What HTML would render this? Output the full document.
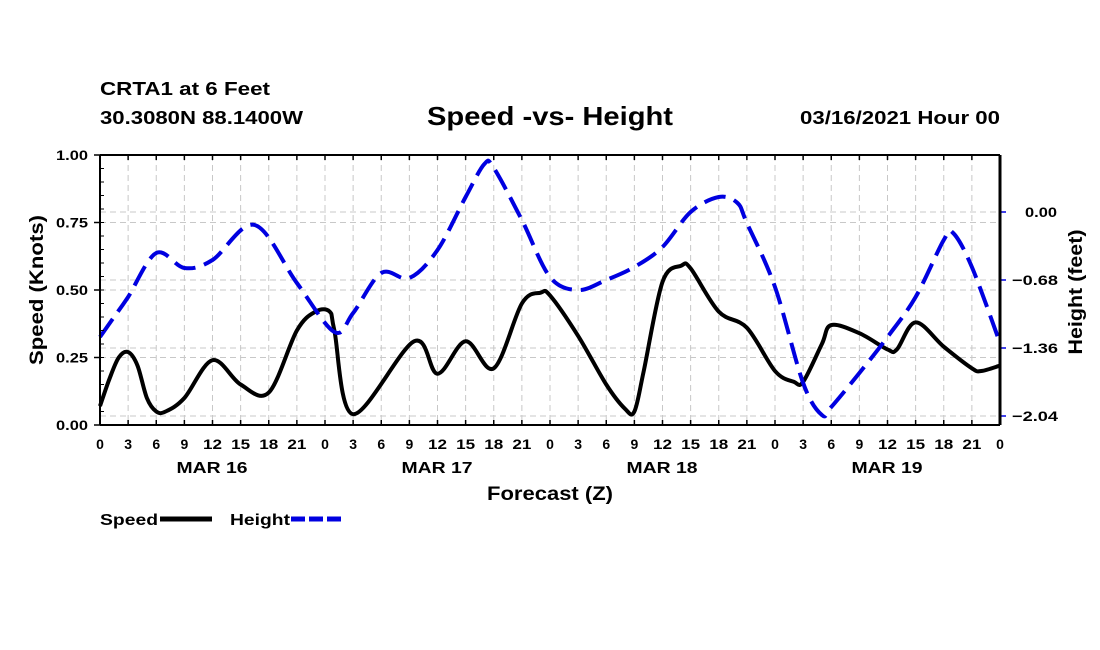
<!DOCTYPE html>
<html><head><meta charset="utf-8">
<style>
html,body{margin:0;padding:0;background:#fff;}
svg{display:block;font-family:"Liberation Sans",Arial,sans-serif;font-weight:bold;}
</style></head>
<body>
<svg id="chart" width="1100" height="650" viewBox="0 0 1100 650">
<text x="100" y="95" font-size="18" textLength="170" lengthAdjust="spacingAndGlyphs">CRTA1 at 6 Feet</text>
<text x="100" y="124" font-size="18" textLength="203" lengthAdjust="spacingAndGlyphs">30.3080N 88.1400W</text>
<text x="427" y="125" font-size="26" textLength="246" lengthAdjust="spacingAndGlyphs">Speed -vs- Height</text>
<text x="800" y="124" font-size="18" textLength="200" lengthAdjust="spacingAndGlyphs">03/16/2021 Hour 00</text>
<g id="grid"></g>
<g id="series"></g>
<g id="axes"></g>
<text x="0" y="0" font-size="19" text-anchor="middle" textLength="150" lengthAdjust="spacingAndGlyphs" transform="translate(43,290) rotate(-90)">Speed (Knots)</text>
<text x="0" y="0" font-size="19" text-anchor="middle" textLength="125" lengthAdjust="spacingAndGlyphs" transform="translate(1082,292) rotate(-90)">Height (feet)</text>
<text x="487" y="500" font-size="19" textLength="126" lengthAdjust="spacingAndGlyphs">Forecast (Z)</text>
<g>
<text x="100" y="525" font-size="16" textLength="58" lengthAdjust="spacingAndGlyphs">Speed</text>
<line x1="160" y1="519" x2="212" y2="519" stroke="#000" stroke-width="5"/>
<text x="230" y="525" font-size="16" textLength="60" lengthAdjust="spacingAndGlyphs">Height</text>
<line x1="291" y1="519" x2="343" y2="519" stroke="#0000e0" stroke-width="5" stroke-dasharray="14,4"/>
</g>
</svg>
<script>
const speedHours=[0,1,2,3,4,5,6,7,9,12,15,18,21,23,24.5,25,27,33.5,36,39,42,45,47,48,51,54,56,57,58,60,62,63,66,69,72,74,75,77,78,81,84,85,87,90,93,94,96];
const speedValues=[0.07,0.17,0.25,0.27,0.22,0.10,0.05,0.05,0.10,0.24,0.15,0.12,0.35,0.42,0.42,0.35,0.04,0.31,0.19,0.31,0.21,0.45,0.49,0.48,0.33,0.15,0.06,0.05,0.20,0.53,0.59,0.58,0.42,0.36,0.20,0.16,0.16,0.30,0.37,0.34,0.28,0.28,0.38,0.29,0.21,0.20,0.22];
const heightHours=[0,1.5,3,6,9,12,16.5,21,25,27,30,33,36,39,41,42,45,48,51,54,57,60,63,66,68,69,72,75,77,78,81,84,87,90,91,93,96];
const heightValues=[-1.25,-1.05,-0.85,-0.41,-0.56,-0.48,-0.13,-0.71,-1.20,-1.01,-0.61,-0.66,-0.38,0.15,0.48,0.44,-0.08,-0.65,-0.78,-0.68,-0.55,-0.35,0.0,0.15,0.09,-0.11,-0.75,-1.71,-2.03,-1.95,-1.61,-1.25,-0.85,-0.28,-0.21,-0.55,-1.31];
const xTickLabels=['0','3','6','9','12','15','18','21','0','3','6','9','12','15','18','21','0','3','6','9','12','15','18','21','0','3','6','9','12','15','18','21','0'];
const dayLabels=['MAR 16','MAR 17','MAR 18','MAR 19'];
const leftTicks=[0,0.25,0.5,0.75,1.0];
const rightTicks=[0,-0.68,-1.36,-2.04];

const L=100,R=1000,T=155,B=425;
const xs=h=>L+(R-L)*h/96;
const yL=v=>B-(B-T)*v;
const yR=v=>212-100*v;
const NS='http://www.w3.org/2000/svg';
function mk(tag,attrs,parent){const e=document.createElementNS(NS,tag);for(const k in attrs)e.setAttribute(k,attrs[k]);parent.appendChild(e);return e;}
const grid=document.getElementById('grid'),axes=document.getElementById('axes'),ser=document.getElementById('series');

xTickLabels.forEach((t,i)=>{const x=xs(i*3);
 if(i>0&&i<32){const g=mk('line',{x1:x,y1:T,x2:x,y2:B,stroke:'#c8c8c8','stroke-width':1,'stroke-dasharray':'6,4'},grid);
 
 }
 const tk=mk('line',{x1:x,y1:B,x2:x,y2:B-5,stroke:'#000','stroke-width':1.5},axes);
 
 
 const tt=mk('line',{x1:x,y1:T,x2:x,y2:T+5,stroke:'#000','stroke-width':1.5},axes);
 
 
 const attrs={x:x,y:449,'font-size':14,'text-anchor':'middle'};
 if(t.length===2){attrs.textLength=19;attrs.lengthAdjust='spacingAndGlyphs';}
 const lb=mk('text',attrs,axes);lb.textContent=t;
 
 
});
dayLabels.forEach((d,i)=>{const lb=mk('text',{x:xs(12+24*i)-36,y:473,'font-size':16,textLength:71,lengthAdjust:'spacingAndGlyphs'},axes);lb.textContent=d;
 
 });
leftTicks.forEach(v=>{const y=yL(v);
 if(v>0&&v<1){const g=mk('line',{x1:L,y1:y,x2:R,y2:y,stroke:'#c8c8c8','stroke-width':1,'stroke-dasharray':'6,4'},grid);
 
 }
 const tk=mk('line',{x1:L-6,y1:y,x2:L,y2:y,stroke:'#000','stroke-width':1.5},axes);
 
 
 const lb=mk('text',{x:56,y:y+5,'font-size':14,textLength:32,lengthAdjust:'spacingAndGlyphs'},axes);lb.textContent=v.toFixed(2);
 
 });
for(let v=0.05;v<1;v+=0.05){mk('line',{x1:L,y1:yL(v),x2:L+4,y2:yL(v),stroke:'#000','stroke-width':1},axes);}
rightTicks.forEach(v=>{const y=yR(v);
 const g=mk('line',{x1:L,y1:y,x2:R,y2:y,stroke:'#c8c8c8','stroke-width':1,'stroke-dasharray':'6,4'},grid);
 
 
 const tk=mk('line',{x1:R,y1:y,x2:R+6,y2:y,stroke:'#0000e0','stroke-width':1.5},axes);
 
 
 const isZero=v===0;
 const lb=mk('text',{x:isZero?1025:1012,y:y+5,'font-size':14,textLength:isZero?32:46,lengthAdjust:'spacingAndGlyphs'},axes);lb.textContent=(isZero?'0.00':'\u2212'+Math.abs(v).toFixed(2));
 
 });
const fr=mk('path',{d:`M${L},${T}H${R}M${L},${B}H${R}M${L},${T}V${B}`,stroke:'#000','stroke-width':2,fill:'none'},axes);


const ra=mk('line',{x1:R,y1:T,x2:R,y2:B,stroke:'#000','stroke-width':3},axes);



function smooth(pts){let d=`M${pts[0][0]},${pts[0][1]}`;
 for(let i=0;i<pts.length-1;i++){const p0=pts[Math.max(0,i-1)],p1=pts[i],p2=pts[i+1],p3=pts[Math.min(pts.length-1,i+2)];
  const c1=[p1[0]+(p2[0]-p0[0])/6,p1[1]+(p2[1]-p0[1])/6],c2=[p2[0]-(p3[0]-p1[0])/6,p2[1]-(p3[1]-p1[1])/6];
  d+=`C${c1[0]},${c1[1]} ${c2[0]},${c2[1]} ${p2[0]},${p2[1]}`;}return d;}
const sp=mk('path',{d:smooth(speedHours.map((h,i)=>[xs(h),yL(speedValues[i])])),fill:'none',stroke:'#000','stroke-width':4,'stroke-linejoin':'round'},ser);


const hp=mk('path',{d:smooth(heightHours.map((h,i)=>[xs(h),yR(heightValues[i])])),fill:'none',stroke:'#0000e0','stroke-width':4,'stroke-dasharray':'22,9'},ser);


</script>
</body></html>
